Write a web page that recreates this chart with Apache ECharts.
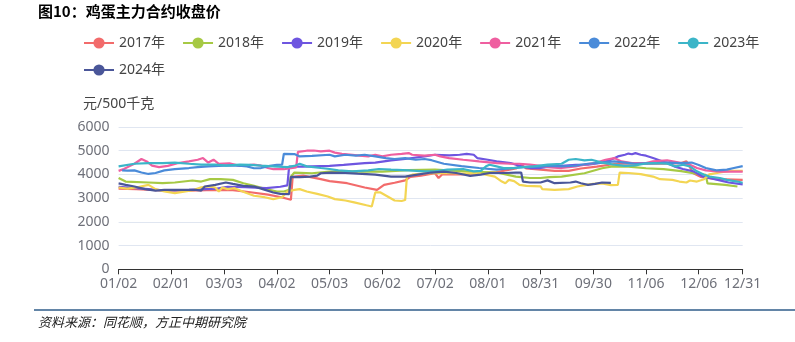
<!DOCTYPE html>
<html><head><meta charset="utf-8">
<script src="https://cdn.jsdelivr.net/npm/echarts@6/dist/echarts.min.js"></script>
<style>html,body{margin:0;padding:0;background:#fff}#c{width:795px;height:342px}</style>
</head><body><div id="c"></div>
<script>
// ---- data ----
const monthDays = [31,28,31,30,31,30,31,31,30,31,30,31];
const skipDates = ['01/01','05/01','10/01','10/02','10/03','10/04','10/05','10/06','10/07'];
const xTickLabels = ['01/02','02/01','03/03','04/02','05/03','06/02','07/02','08/01','08/31','09/30','11/06','12/06','12/31'];
const seriesNames = ['2017年','2018年','2019年','2020年','2021年','2022年','2023年','2024年'];
const seriesColors = ['#f26b6b','#a6c944','#6e55e0','#f3d553','#ef5fa0','#4a8bd9','#3bb5c8','#4a5699'];

const y2017 = [['01/02',3400],['01/12',3380],['01/27',3330],['02/11',3320],['02/26',3350],['03/08',3340],['03/18',3250],['03/28',3150],['04/04',3050],['04/10',2930],['04/11',3900],['04/17',3950],['04/27',3800],['05/03',3720],['05/13',3630],['05/23',3450],['05/30',3350],['06/03',3560],['06/09',3650],['06/15',3750],['06/18',3900],['06/24',3950],['07/02',4050],['07/04',3850],['07/06',4000],['07/17',4000],['07/27',4050],['08/06',4100],['08/17',4250],['08/20',4400],['08/23',4250],['08/31',4200],['09/08',4150],['09/16',4150],['09/23',4250],['10/09',4330],['10/20',4450],['10/27',4450],['11/06',4450],['11/16',4450],['11/26',4480],['11/29',4550],['12/03',4050],['12/07',3900],['12/16',3800],['12/31',3770]];

const y2018 = [['01/02',3850],['01/06',3700],['01/19',3660],['01/27',3630],['02/03',3660],['02/13',3745],['02/18',3700],['02/23',3800],['03/01',3800],['03/08',3770],['03/14',3630],['03/20',3520],['03/27',3380],['04/02',3280],['04/06',3280],['04/09',3350],['04/10',3900],['04/12',4080],['04/22',4050],['05/03',4120],['05/18',4130],['06/02',4120],['06/17',4180],['07/02',4200],['07/22',4120],['08/06',4080],['08/17',3910],['08/25',3850],['08/31',3850],['09/05',3890],['09/12',3910],['09/25',4050],['10/12',4260],['10/18',4340],['10/27',4330],['11/06',4260],['11/16',4220],['11/26',4140],['12/03',4050],['12/10',3980],['12/11',3620],['12/12',3560],['12/21',3560],['12/28',3490]];

const y2019 = [['01/02',3480],['01/12',3420],['01/29',3320],['02/11',3350],['02/27',3400],['03/05',3480],['03/15',3460],['03/27',3420],['04/04',3480],['04/08',3540],['04/09',4330],['04/17',4330],['05/03',4360],['05/11',4400],['05/23',4480],['05/29',4500],['06/07',4590],['06/15',4650],['06/26',4760],['07/02',4830],['07/10',4800],['07/16',4830],['07/20',4870],['07/24',4830],['07/26',4690],['08/01',4620],['08/06',4550],['08/14',4480],['08/20',4340],['08/25',4270],['08/31',4270],['09/05',4330],['09/12',4360],['09/20',4400],['09/27',4410],['10/12',4500],['10/17',4620],['10/21',4760],['10/25',4830],['10/27',4880],['10/29',4850],['10/31',4900],['11/03',4830],['11/06',4790],['11/10',4690],['11/14',4590],['11/18',4480],['11/22',4340],['11/27',4230],['12/03',4130],['12/08',3920],['12/12',3850],['12/18',3750],['12/23',3660],['12/31',3580]];

const y2020 = [['01/02',3450],['01/07',3400],['01/12',3450],['01/19',3560],['01/23',3380],['01/28',3280],['02/03',3210],['02/09',3280],['02/14',3350],['02/18',3460],['02/22',3500],['02/26',3450],['02/28',3280],['03/02',3450],['03/05',3380],['03/09',3420],['03/15',3240],['03/20',3100],['03/26',3040],['03/31',2960],['04/05',3040],['04/08',3280],['04/12',3350],['04/15',3380],['04/19',3280],['04/25',3180],['05/02',3070],['05/06',2960],['05/12',2900],['05/17',2820],['05/24',2700],['05/27',2650],['05/29',3240],['06/01',3240],['06/05',3070],['06/09',2900],['06/13',2880],['06/15',2920],['06/16',3910],['06/19',3990],['06/27',4050],['07/07',4060],['07/17',4040],['07/27',4050],['08/05',3910],['08/09',3700],['08/11',3630],['08/13',3770],['08/16',3720],['08/19',3560],['08/23',3520],['08/31',3500],['09/01',3380],['09/08',3350],['09/16',3380],['09/21',3490],['09/26',3560],['09/30',3600],['10/12',3620],['10/17',3550],['10/21',3560],['10/22',4080],['10/27',4060],['11/03',4010],['11/10',3910],['11/14',3800],['11/21',3770],['11/25',3700],['11/29',3660],['12/01',3745],['12/05',3700],['12/09',3800],['12/12',4000],['12/18',4080],['12/24',4150],['12/31',4150]];

const y2021 = [['01/02',4150],['01/05',4230],['01/08',4340],['01/11',4450],['01/15',4650],['01/18',4550],['01/21',4370],['01/25',4310],['01/30',4360],['02/05',4480],['02/11',4550],['02/16',4620],['02/19',4690],['02/22',4500],['02/25',4620],['02/28',4450],['03/06',4470],['03/12',4360],['03/20',4410],['03/24',4370],['03/28',4270],['03/31',4220],['04/06',4220],['04/11',4270],['04/13',4300],['04/14',4950],['04/19',5000],['04/23',5010],['04/27',4970],['05/03',5000],['05/06',4920],['05/10',4870],['05/16',4830],['05/20',4790],['05/25',4760],['05/29',4830],['06/02',4760],['06/07',4830],['06/13',4870],['06/17',4900],['06/19',4830],['06/26',4790],['07/02',4830],['07/05',4760],['07/10',4690],['07/18',4620],['07/27',4550],['08/06',4480],['08/14',4450],['08/19',4450],['08/25',4410],['08/31',4360],['09/04',4310],['09/12',4270],['09/20',4340],['09/25',4410],['10/08',4480],['10/14',4620],['10/19',4690],['10/23',4550],['10/29',4480],['11/06',4480],['11/10',4550],['11/18',4590],['11/25',4500],['12/01',4410],['12/05',4270],['12/10',4170],['12/18',4120],['12/31',4120]];

const y2022 = [['01/04',4170],['01/07',4160],['01/11',4170],['01/15',4080],['01/19',4020],['01/23',4060],['01/28',4170],['02/03',4220],['02/11',4270],['02/16',4310],['02/22',4340],['02/28',4360],['03/06',4380],['03/13',4360],['03/16',4340],['03/20',4260],['03/24',4270],['03/29',4360],['04/02',4400],['04/05',4410],['04/06',4870],['04/12',4860],['04/15',4760],['04/22',4780],['05/03',4830],['05/06',4760],['05/12',4830],['05/18',4790],['05/23',4830],['05/29',4760],['06/04',4690],['06/09',4650],['06/15',4690],['06/21',4620],['06/26',4650],['06/30',4600],['07/07',4450],['07/17',4350],['07/27',4270],['08/06',4200],['08/13',4250],['08/21',4310],['08/31',4330],['09/05',4360],['09/12',4340],['09/20',4370],['09/27',4450],['10/12',4500],['10/19',4550],['10/25',4500],['10/31',4450],['11/06',4470],['11/12',4480],['11/18',4500],['11/25',4480],['12/02',4500],['12/06',4400],['12/10',4270],['12/16',4170],['12/22',4200],['12/26',4270],['12/31',4350]];

const y2023 = [['01/02',4340],['01/11',4450],['01/19',4480],['01/27',4480],['02/03',4500],['02/11',4450],['02/18',4410],['02/26',4410],['03/04',4370],['03/12',4410],['03/18',4400],['03/24',4370],['03/31',4340],['04/08',4310],['04/12',4360],['04/15',4450],['04/19',4340],['04/27',4270],['05/03',4230],['05/08',4170],['05/16',4130],['05/25',4170],['05/31',4230],['06/07',4200],['06/17',4170],['06/26',4130],['07/02',4130],['07/09',4200],['07/18',4230],['07/24',4130],['07/28',4150],['07/31',4340],['08/02',4410],['08/06',4340],['08/10',4270],['08/16',4270],['08/21',4310],['08/27',4340],['09/04',4410],['09/12',4450],['09/16',4620],['09/20',4650],['09/25',4590],['09/29',4620],['10/12',4500],['10/19',4410],['10/25',4360],['10/31',4380],['11/05',4450],['11/10',4480],['11/18',4450],['11/23',4340],['11/27',4410],['12/01',4340],['12/05',4130],['12/09',3990],['12/12',3910],['12/18',3850],['12/22',3770],['12/28',3700],['12/31',3650]];

const y2024 = [['01/02',3620],['01/06',3560],['01/11',3490],['01/17',3380],['01/23',3320],['01/28',3350],['02/07',3350],['02/15',3350],['02/18',3320],['02/20',3490],['02/26',3560],['03/04',3660],['03/08',3600],['03/14',3520],['03/20',3490],['03/25',3380],['03/31',3240],['04/04',3180],['04/09',3170],['04/10',3900],['04/15',3890],['04/21',3910],['04/25',3950],['04/27',4050],['05/04',4080],['05/12',4060],['05/19',4030],['05/29',3990],['06/07',3910],['06/15',3910],['06/22',3990],['06/30',4080],['07/07',4120],['07/14',4060],['07/22',3940],['07/28',3990],['08/02',4060],['08/11',4060],['08/17',4080],['08/20',4080],['08/21',3700],['08/25',3660],['08/31',3660],['09/04',3750],['09/08',3630],['09/17',3660],['09/20',3700],['09/23',3630],['09/27',3560],['10/08',3600],['10/12',3660],['10/17',3640]];

const seriesValues = [y2017, y2018, y2019, y2020, y2021, y2022, y2023, y2024];

// ---- build categories ----
const categories = [];
monthDays.forEach((n, m) => {
  for (let d = 1; d <= n; d++) {
    const s = String(m + 1).padStart(2, '0') + '/' + String(d).padStart(2, '0');
    if (skipDates.indexOf(s) < 0) categories.push(s);
  }
});
const tickSet = new Set(xTickLabels);
const showTick = (i, v) => tickSet.has(categories[i]);

const chart = echarts.init(document.getElementById('c'), null, {renderer: 'canvas'});
const FONT = 'Noto Sans, Noto Sans CJK SC, sans-serif';
const legendBase = {
  left: 78, itemWidth: 30, itemHeight: 14, itemGap: 17, selectedMode: false,
  textStyle: {color: '#444', fontSize: 14, fontFamily: FONT}
};
chart.setOption({
  animation: false,
  color: seriesColors,
  textStyle: {fontFamily: FONT},
  legend: [
    Object.assign({}, legendBase, {top: 31, data: seriesNames.slice(0, 7)}),
    Object.assign({}, legendBase, {top: 58, data: seriesNames.slice(7)})
  ],
  grid: {left: 118.6, right: 52.3, top: 127, bottom: 72.7, containLabel: false},
  xAxis: {
    type: 'category', data: categories, boundaryGap: false,
    axisLine: {lineStyle: {color: '#333', width: 1}},
    axisTick: {interval: showTick, length: 5, lineStyle: {color: '#333'}},
    axisLabel: {interval: showTick, color: '#6e7079', fontSize: 14, margin: 8}
  },
  yAxis: {
    type: 'value', min: 0, max: 6000, interval: 1000,
    name: '元/500千克', nameGap: 16,
    nameTextStyle: {color: '#444', fontSize: 14},
    axisLine: {show: false}, axisTick: {show: false},
    axisLabel: {color: '#6e7079', fontSize: 14, margin: 9, formatter: v => String(v)},
    splitLine: {lineStyle: {color: '#e0e6f1'}}
  },
  series: seriesNames.map((n, i) => ({
    name: n, type: 'line', data: seriesValues[i],
    showSymbol: false, symbol: 'circle', symbolSize: 8,
    lineStyle: {width: 2.2}
  })),
  graphic: [
    {type: 'text', left: 38, top: 4, style: {text: '图10：鸡蛋主力合约收盘价', fontSize: 15, fontWeight: 'bold', fill: '#000', fontFamily: 'Noto Sans CJK SC'}},
    {type: 'line', shape: {x1: 34, y1: 310, x2: 795, y2: 310}, style: {stroke: '#2f5d8a', lineWidth: 1.5}},
    {type: 'text', left: 38, top: 316, style: {text: '资料来源：同花顺，方正中期研究院', fontSize: 13, fontStyle: 'italic', fill: '#222', fontFamily: 'Noto Sans CJK SC'}}
  ]
});
</script></body></html>
